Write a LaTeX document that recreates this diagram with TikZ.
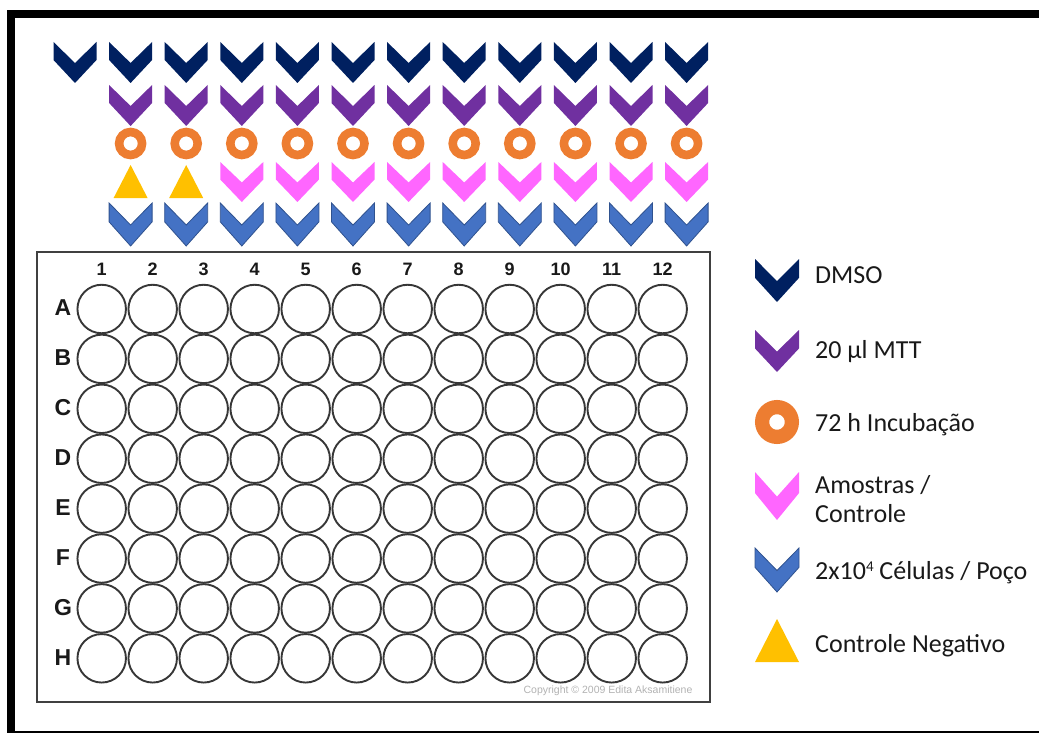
\documentclass[tikz,border=0pt]{standalone}
\usepackage{fontspec}
\setmainfont{Carlito}
\newfontfamily\platefont{Liberation Sans}
\definecolor{cnavy}{RGB}{0,32,96}
\definecolor{cpurple}{RGB}{112,48,160}
\definecolor{corange}{RGB}{237,125,49}
\definecolor{cpink}{RGB}{255,102,255}
\definecolor{cblue}{RGB}{68,114,196}
\definecolor{cblueline}{RGB}{47,82,143}
\definecolor{cyellow}{RGB}{255,192,0}
\definecolor{cwell}{RGB}{55,55,55}
\tikzset{
  chev/.pic={\path[pic actions] (-21.5,0) -- (0,21) -- (21.5,0) -- (21.5,18) -- (0,41) -- (-21.5,18) -- cycle;},
  navychev/.style={fill=cnavy},
  purplechev/.style={fill=cpurple},
  pinkchev/.style={fill=cpink},
  bluechev/.style={fill=cblue, draw=cblueline, line width=0.8pt},
  ring/.style={draw=corange},
  tri/.style={fill=cyellow},
  well/.style={circle, draw=cwell, line width=1.9pt, minimum size=48.5pt, inner sep=0pt},
  collab/.style={font=\platefont\bfseries\fontsize{18}{20}\selectfont, text=black!90, inner sep=0pt},
  rowlab/.style={font=\platefont\bfseries\fontsize{23}{25}\selectfont, text=black!90, inner sep=0pt},
  legtext/.style={anchor=west, font=\fontsize{26}{29}\selectfont, text=black!90, inner sep=0pt, align=left}
}
\begin{document}
\begin{tikzpicture}[x=1pt,y=-1pt]
\useasboundingbox (0,0) rectangle (1039,733);
% outer frame
\fill[black] (7,10) rectangle (1039,18);
\fill[black] (7,10) rectangle (15,733);
\fill[black] (7,731) rectangle (1039,733);

% top symbols
\foreach \i in {0,...,11} {
  \pgfmathsetmacro\cx{75+55.6*\i}
  \pic[navychev] at (\cx,42) {chev};
}
\foreach \i in {1,...,11} {
  \pgfmathsetmacro\cx{75+55.6*\i}
  \pic[purplechev] at (\cx,85) {chev};
  \draw[ring, line width=8.6pt] (\cx,143.5) circle[radius=11.5];
  \pic[bluechev, yscale=43/41] at (\cx,203) {chev};
}
\foreach \i in {1,2} {
  \pgfmathsetmacro\cx{75+55.6*\i}
  \fill[tri] (\cx-17,198) -- (\cx+17,198) -- (\cx,165) -- cycle;
}
\foreach \i in {3,...,11} {
  \pgfmathsetmacro\cx{75+55.6*\i}
  \pic[pinkchev, yscale=40/41] at (\cx,162) {chev};
}

% plate
\draw[line width=2.4pt, draw=black!75] (37,252) rectangle (710,702);
\foreach \c in {1,...,12} {
  \pgfmathsetmacro\wx{101.7+51*(\c-1)}
  \node[collab] (col\c) at (\wx,269.5) {\c};
  \foreach \r [count=\ri] in {A,B,C,D,E,F,G,H} {
    \pgfmathsetmacro\wy{309+49.9*(\ri-1)}
    \node[well] (w\r\c) at (\wx,\wy) {};
  }
}
\foreach \r [count=\ri] in {A,B,C,D,E,F,G,H} {
  \pgfmathsetmacro\wy{308+49.9*(\ri-1)}
  \node[rowlab] (row\r) at (63,\wy) {\r};
}
\node[font=\platefont\fontsize{10.5}{12}\selectfont, text=black!30, inner sep=0pt] (copy) at (608,691) {Copyright \textcopyright\ 2009 Edita Aksamitiene};

% legend
\pic[navychev, xscale=44/43, yscale=43/41] at (777,259) {chev};
\node[legtext] (lDMSO) at (815,275) {DMSO};
\pic[purplechev, xscale=44/43, yscale=42/41] at (777,330) {chev};
\node[legtext] (lMTT) at (815,352) {20 µl MTT};
\draw[ring, line width=14.2pt] (777,422) circle[radius=14.9];
\node[legtext] (lInc) at (815,425) {72 h Incubação};
\pic[pinkchev, xscale=44/43, yscale=48/41] at (777,472) {chev};
\node[legtext] (lAm1) at (815,485) {Amostras /};
\node[legtext] (lAm2) at (815,514) {Controle};
\pic[bluechev, xscale=44/43, yscale=44/41] at (777,548) {chev};
\node[legtext] (lCel) at (815,573) {2x10{\fontsize{15}{16}\selectfont\raisebox{1.2ex}{4}} Células / Poço};
\fill[tri] (755,662) -- (799,662) -- (777,619) -- cycle;
\node[legtext] (lNeg) at (815,646) {Controle Negativo};
\end{tikzpicture}
\end{document}
